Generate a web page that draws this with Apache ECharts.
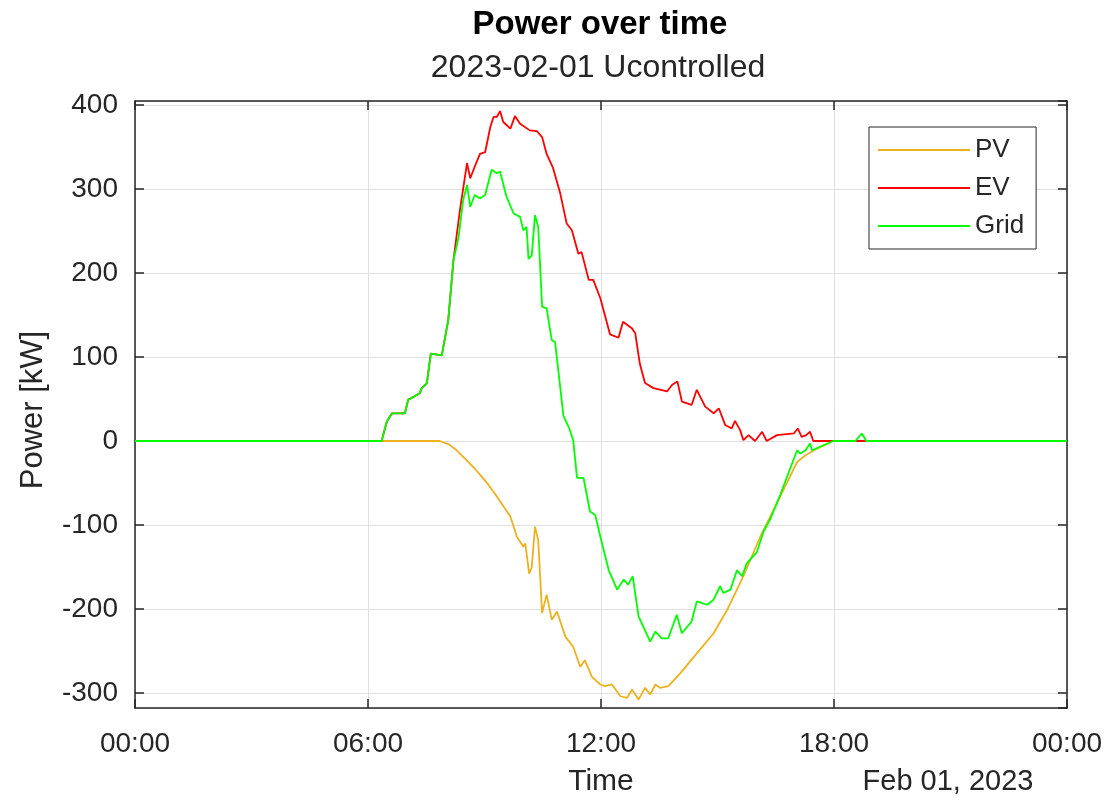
<!DOCTYPE html>
<html>
<head>
<meta charset="utf-8">
<script src="https://cdn.jsdelivr.net/npm/echarts@6/dist/echarts.min.js"></script>
<style>
html,body{margin:0;padding:0;background:#fff;}
#chart{width:1109px;height:801px;}
</style>
</head>
<body>
<div id="chart"></div>
<script>
// ---- data (times HH:MM, power in kW) ----
var pvTimes = ["00:00","07:51","08:05","08:17","08:31","08:45","08:53","09:06","09:19","09:40","09:50","10:00","10:03","10:09","10:13","10:18","10:23","10:29","10:36","10:44","10:52","11:05","11:17","11:28","11:35","11:46","11:59","12:06","12:17","12:30","12:40","12:48","12:58","13:08","13:16","13:24","13:31","13:44","14:02","14:28","14:54","15:15","15:40","16:06","16:37","17:03","17:16","17:34","17:59","24:00"];
var pvValues = [0,0,-4,-11,-22,-33,-40,-52,-66,-90,-114,-126,-122,-158,-150,-102,-118,-205,-183,-213,-203,-233,-245,-269,-261,-281,-290,-292,-290,-304,-306,-296,-308,-294,-302,-290,-294,-292,-277,-253,-229,-201,-161,-114,-66,-25,-17,-9,0,0];

var evTimes = ["00:00","06:21","06:29","06:37","06:57","07:02","07:20","07:23","07:31","07:37","07:54","08:04","08:12","08:22","08:33","08:38","08:45","08:53","09:01","09:09","09:14","09:19","09:24","09:29","09:40","09:47","09:55","10:10","10:21","10:29","10:36","10:46","10:57","11:07","11:15","11:25","11:30","11:41","11:48","11:59","12:14","12:27","12:34","12:48","12:53","13:00","13:08","13:21","13:42","13:50","13:58","14:05","14:20","14:28","14:41","14:54","15:02","15:12","15:22","15:27","15:35","15:40","15:48","15:58","16:09","16:16","16:32","16:58","17:04","17:10","17:17","17:23","17:28","24:00"];
var evValues = [0,0,23,33,33,49,57,63,69,104,102,144,215,275,331,313,327,342,344,374,386,386,393,380,372,387,378,370,369,362,342,325,295,259,251,223,225,192,192,170,127,123,142,134,128,92,69,63,59,67,71,47,43,61,41,33,39,19,15,24,13,1,7,0,11,0,7,9,15,5,7,11,0,0];

var gridTimes = ["00:00","06:21","06:29","06:37","06:57","07:02","07:20","07:23","07:31","07:37","07:54","08:04","08:12","08:20","08:27","08:33","08:38","08:45","08:53","09:01","09:11","09:19","09:24","09:34","09:45","09:55","10:00","10:05","10:08","10:13","10:18","10:23","10:29","10:36","10:44","10:49","11:02","11:11","11:17","11:23","11:33","11:43","11:51","11:59","12:12","12:25","12:35","12:42","12:49","12:58","13:16","13:24","13:34","13:44","13:57","14:05","14:20","14:28","14:44","14:54","15:04","15:09","15:20","15:30","15:38","15:45","16:01","16:11","16:21","16:37","17:03","17:08","17:16","17:23","17:26","17:59","18:33","18:43","18:50","24:00"];
var gridValues = [0,0,23,33,33,49,57,63,69,104,102,144,215,243,287,305,279,293,289,293,323,319,321,291,271,267,251,255,217,221,269,255,160,158,120,118,30,15,1,-44,-44,-84,-88,-114,-154,-177,-165,-171,-161,-209,-239,-227,-235,-235,-207,-229,-215,-191,-195,-189,-173,-181,-177,-154,-161,-146,-132,-108,-94,-64,-11,-15,-11,-3,-11,0,0,9,0,0];

var xTickLabels = ["00:00","06:00","12:00","18:00","00:00"];
var seriesNames = ["PV","EV","Grid"];

function toMin(s){var p=s.split(":");return (+p[0])*60+(+p[1]);}
function pairs(t,v){return t.map(function(s,i){return [toMin(s),v[i]];});}

var FONT = '"Liberation Sans", Arial, Helvetica, sans-serif';
var AX = '#262626';

var chart = echarts.init(document.getElementById('chart'), null, {renderer:'canvas'});
var yMin = -318, yMax = 405;
var option = {
  backgroundColor:'#fff',
  animation:false,
  textStyle:{fontFamily:FONT},
  grid:{left:135, right:42, top:101, bottom:93, show:false, containLabel:false},
  legend:{
    orient:'vertical', left:869, top:127,
    data:seriesNames,
    icon:'rect',
    itemWidth:92, itemHeight:2, itemGap:12,
    padding:[10,12,10,9],
    borderColor:AX, borderWidth:1, backgroundColor:'#fff',
    textStyle:{fontSize:26, color:AX, fontFamily:FONT, lineHeight:26}
  },
  xAxis:[{
    type:'value', min:0, max:1440, interval:360, position:'bottom',
    axisLine:{show:true, onZero:false, lineStyle:{color:AX, width:1.5}},
    axisTick:{show:true, inside:true, length:9, lineStyle:{color:AX, width:1.5}},
    axisLabel:{fontSize:28, color:AX, margin:22, fontFamily:FONT,
      formatter:function(v){return xTickLabels[Math.round(v/360)];}},
    splitLine:{show:true, lineStyle:{color:'#dfdfdf', width:1}}
  },{
    type:'value', min:0, max:1440, interval:360, position:'top',
    axisLine:{show:true, onZero:false, lineStyle:{color:AX, width:1.5}},
    axisTick:{show:true, inside:true, length:9, lineStyle:{color:AX, width:1.5}},
    axisLabel:{show:false}, splitLine:{show:false}
  }],
  yAxis:[{
    type:'value', min:yMin, max:yMax, splitNumber:7, minInterval:100, maxInterval:100, position:'left',
    axisLine:{show:true, onZero:false, lineStyle:{color:AX, width:1.5}},
    axisTick:{show:true, inside:true, length:9, lineStyle:{color:AX, width:1.5}},
    axisLabel:{fontSize:28, color:AX, margin:17, fontFamily:FONT, showMinLabel:false, showMaxLabel:false,
      formatter:function(v){return (Math.abs(v%100)<1e-6)? String(v) : '';}},
    splitLine:{show:true, lineStyle:{color:'#dfdfdf', width:1}}
  },{
    type:'value', min:yMin, max:yMax, splitNumber:7, minInterval:100, maxInterval:100, position:'right',
    axisLine:{show:true, onZero:false, lineStyle:{color:AX, width:1.5}},
    axisTick:{show:true, inside:true, length:9, lineStyle:{color:AX, width:1.5}},
    axisLabel:{show:false}, splitLine:{show:false}
  }],
  series:[
    {name:'PV', type:'line', data:pairs(pvTimes,pvValues), showSymbol:false, symbol:'none',
     lineStyle:{color:'#EDB120', width:1.8}, itemStyle:{color:'#EDB120'}, z:2},
    {name:'EV', type:'line', data:pairs(evTimes,evValues), showSymbol:false, symbol:'none',
     lineStyle:{color:'#FF0000', width:1.8}, itemStyle:{color:'#FF0000'}, z:3},
    {name:'Grid', type:'line', data:pairs(gridTimes,gridValues), showSymbol:false, symbol:'none',
     lineStyle:{color:'#00FF00', width:1.8}, itemStyle:{color:'#00FF00'}, z:4}
  ],
  graphic:[
    {type:'text', x:600, y:25, style:{text:'Power over time', font:'bold 33px '+FONT, fill:'#000', textAlign:'center', textVerticalAlign:'middle'}},
    {type:'text', x:598, y:68, style:{text:'2023-02-01 Ucontrolled', font:'32px '+FONT, fill:AX, textAlign:'center', textVerticalAlign:'middle'}},
    {type:'text', x:601, y:782, style:{text:'Time', font:'30px '+FONT, fill:AX, textAlign:'center', textVerticalAlign:'middle'}},
    {type:'text', x:948, y:782, style:{text:'Feb 01, 2023', font:'29px '+FONT, fill:AX, textAlign:'center', textVerticalAlign:'middle'}},
    {type:'text', x:33, y:410, rotation:Math.PI/2, style:{text:'Power [kW]', font:'31px '+FONT, fill:AX, textAlign:'center', textVerticalAlign:'middle'}}
  ]
};
chart.setOption(option);
</script>
</body>
</html>
